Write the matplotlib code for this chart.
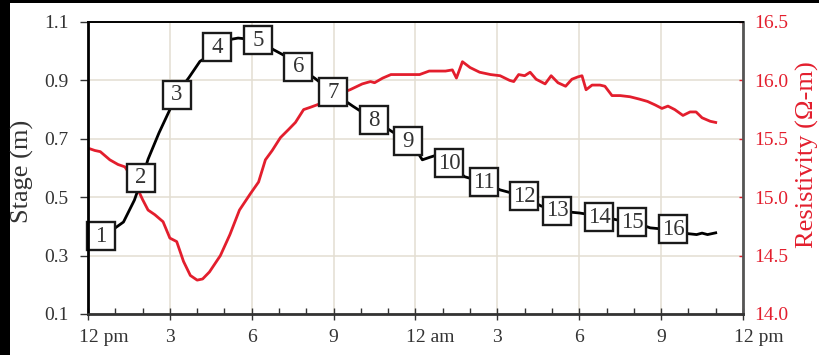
import numpy as np
import matplotlib
matplotlib.use("Agg")
import matplotlib.pyplot as plt
import matplotlib.transforms as mtransforms
from matplotlib.patches import Rectangle

plt.rcParams['font.family'] = ['Liberation Serif', 'DejaVu Serif']

# hours since 12 pm
stage_hours = [0.0, 0.5, 1.0, 1.3, 1.7, 2.0, 2.2, 2.6, 3.0, 3.3, 3.7, 4.1, 4.35,
               4.8, 5.2, 5.5, 5.8, 6.3, 6.8, 7.2, 7.7, 8.3, 9.0, 9.7, 10.5, 11.1,
               11.7, 12.0, 12.25, 12.5, 12.8, 13.2, 13.8, 14.5, 15.1, 15.5, 16.0,
               16.6, 17.2, 18.0, 18.7, 19.4, 20.0, 20.6, 21.4, 22.0, 22.3, 22.5,
               22.7, 23.0]
stage = [0.365, 0.37, 0.395, 0.415, 0.49, 0.57, 0.63, 0.72, 0.80, 0.86, 0.91,
         0.965, 0.98, 1.02, 1.04, 1.045, 1.042, 1.035, 1.005, 0.985, 0.946,
         0.908, 0.857, 0.812, 0.764, 0.727, 0.692, 0.665, 0.628, 0.636, 0.645,
         0.62, 0.57, 0.552, 0.525, 0.515, 0.50, 0.47, 0.453, 0.446, 0.436,
         0.422, 0.415, 0.395, 0.388, 0.375, 0.372, 0.377, 0.372, 0.378]

res_hours = [0.0, 0.25, 0.45, 0.8, 1.1, 1.35, 1.55, 1.8, 2.0, 2.2, 2.45, 2.75,
             3.0, 3.25, 3.5, 3.75, 4.0, 4.2, 4.45, 4.85, 5.2, 5.55, 5.95, 6.25,
             6.5, 6.75, 7.05, 7.35, 7.6, 7.9, 8.15, 8.5, 8.85, 9.25, 9.6, 10.05,
             10.35, 10.5, 10.8, 11.1, 11.45, 12.15, 12.5, 13.1, 13.35, 13.5,
             13.72, 14.0, 14.35, 14.75, 15.1, 15.45, 15.6, 15.78, 16.0, 16.2,
             16.42, 16.75, 16.97, 17.22, 17.5, 17.73, 17.95, 18.1, 18.25, 18.47,
             18.76, 18.94, 19.2, 19.5, 19.86, 20.2, 20.5, 20.78, 21.03, 21.25,
             21.5, 21.8, 22.06, 22.28, 22.5, 22.8, 23.0]
resistivity = [15.42, 15.40, 15.39, 15.32, 15.28, 15.26, 15.19, 15.08, 14.98,
               14.89, 14.85, 14.79, 14.65, 14.62, 14.45, 14.33, 14.29, 14.30,
               14.36, 14.50, 14.68, 14.89, 15.03, 15.13, 15.32, 15.40, 15.51,
               15.58, 15.64, 15.75, 15.77, 15.80, 15.83, 15.89, 15.92, 15.97,
               15.99, 15.98, 16.02, 16.05, 16.05, 16.05, 16.08, 16.08, 16.09,
               16.02, 16.16, 16.11, 16.07, 16.05, 16.04, 16.00, 15.99, 16.05,
               16.04, 16.07, 16.01, 15.97, 16.04, 15.98, 15.95, 16.01, 16.03,
               16.04, 15.92, 15.96, 15.96, 15.95, 15.87, 15.87, 15.86, 15.84,
               15.82, 15.79, 15.76, 15.78, 15.75, 15.70, 15.73, 15.73, 15.68,
               15.65, 15.64]

# numbered photo markers along the stage curve
box_labels = [str(i) for i in range(1, 17)]
box_hours = [0.48, 1.94, 3.26, 4.73, 6.23, 7.71, 8.98, 10.48, 11.74, 13.23,
             14.51, 15.98, 17.19, 18.74, 19.93, 21.44]
box_stage = [0.367, 0.566, 0.85, 1.014, 1.038, 0.946, 0.859, 0.764, 0.691,
             0.617, 0.552, 0.504, 0.453, 0.432, 0.415, 0.391]

x_ticks = [0, 3, 6, 9, 12, 15, 18, 21, 24]
x_labels = ['12 pm', '3', '6', '9', '12 am', '3', '6', '9', '12 pm']
stage_ticks = [0.1, 0.3, 0.5, 0.7, 0.9, 1.1]
res_ticks = [14.0, 14.5, 15.0, 15.5, 16.0, 16.5]

RED = '#e31e2d'
GRID = '#e3ded2'
TXT = '#333333'

fig = plt.figure(figsize=(8.2, 3.55), dpi=100)
fig.patch.set_facecolor('black')
fig.patches.append(Rectangle((10 / 820, 0), 1, 352 / 355, transform=fig.transFigure,
                             facecolor='white', edgecolor='none', zorder=-10))

ax = fig.add_axes([88 / 820, 1 - 314 / 355, (743 - 88) / 820, (314 - 22) / 355])
ax2 = ax.twinx()
ax.set_zorder(ax2.get_zorder() + 1)
ax.patch.set_visible(False)
ax2.patch.set_visible(False)

# resistivity (right axis, drawn underneath)
ax2.plot(res_hours, resistivity, color=RED, lw=2.0, solid_joinstyle='round')
ax2.set_ylim(14.0, 16.5)
ax2.set_yticks(res_ticks)
ax2.set_yticklabels([f'{v:.1f}' for v in res_ticks])
ax2.tick_params(axis='y', colors=RED, labelsize=14, direction='in', length=3,
                width=1, pad=8)
for lbl in ax2.get_yticklabels():
    lbl.set_color(RED)
ax2.xaxis.set_visible(True)
ax2.set_xticks(x_ticks)
ax2.tick_params(axis='x', which='both', bottom=False, top=False,
                labelbottom=False, labeltop=False)
ax2.grid(True, color=GRID, lw=1.1)
for s in ax2.spines.values():
    s.set_visible(False)

# stage (left axis, on top)
ax.plot(stage_hours, stage, color='black', lw=2.0, solid_joinstyle='round')
ax.plot(box_hours, box_stage, ls='none', marker='s', ms=19.5, mfc='white',
        mec='#1a1a1a', mew=1.7, clip_on=False)
for lab, h, s in zip(box_labels, box_hours, box_stage):
    ax.text(h, s, lab, ha='center', va='center', fontsize=16.5, color='#333333')

ax.set_xlim(0, 24)
ax.set_ylim(0.1, 1.1)
ax.set_xticks(x_ticks)
ax.set_xticks(range(0, 25), minor=True)
ax.set_xticklabels(x_labels)
ax.set_yticks(stage_ticks)
ax.set_yticklabels([f'{v:.1f}' for v in stage_ticks])
ax.tick_params(axis='x', which='major', direction='inout', length=9, width=1,
               colors=TXT, labelsize=14, pad=6)
ax.tick_params(axis='x', which='minor', direction='in', length=4, width=1,
               colors=TXT)
ax.tick_params(axis='y', direction='out', length=6, width=1, colors=TXT,
               labelsize=14, pad=8)
ax.tick_params(axis='y', which='both', right=False)

# "12 pm" / "12 am": keep the "12" centred over the tick
shift = mtransforms.ScaledTranslation(-9 / 100, 0, fig.dpi_scale_trans)
for lbl in ax.get_xticklabels():
    if ' ' in lbl.get_text():
        lbl.set_horizontalalignment('left')
        lbl.set_transform(lbl.get_transform() + shift)

ax.spines['left'].set_color('black')
ax.spines['left'].set_linewidth(2.0)
ax.spines['top'].set_color('black')
ax.spines['top'].set_linewidth(1.4)
ax.spines['right'].set_color('#555555')
ax.spines['right'].set_linewidth(2.0)
ax.spines['bottom'].set_color('#333333')
ax.spines['bottom'].set_linewidth(2.0)

fig.text(11 / 820, 1 - 171 / 355, 'Stage (m)', rotation=90, ha='left',
         va='center', fontsize=19, color=TXT)
fig.text(796 / 820, 1 - 155 / 355, 'Resistivity (\u03a9-m)', rotation=90,
         ha='left', va='center', fontsize=19, color=RED)

fig.savefig('out.png', dpi=100, facecolor=fig.get_facecolor())
